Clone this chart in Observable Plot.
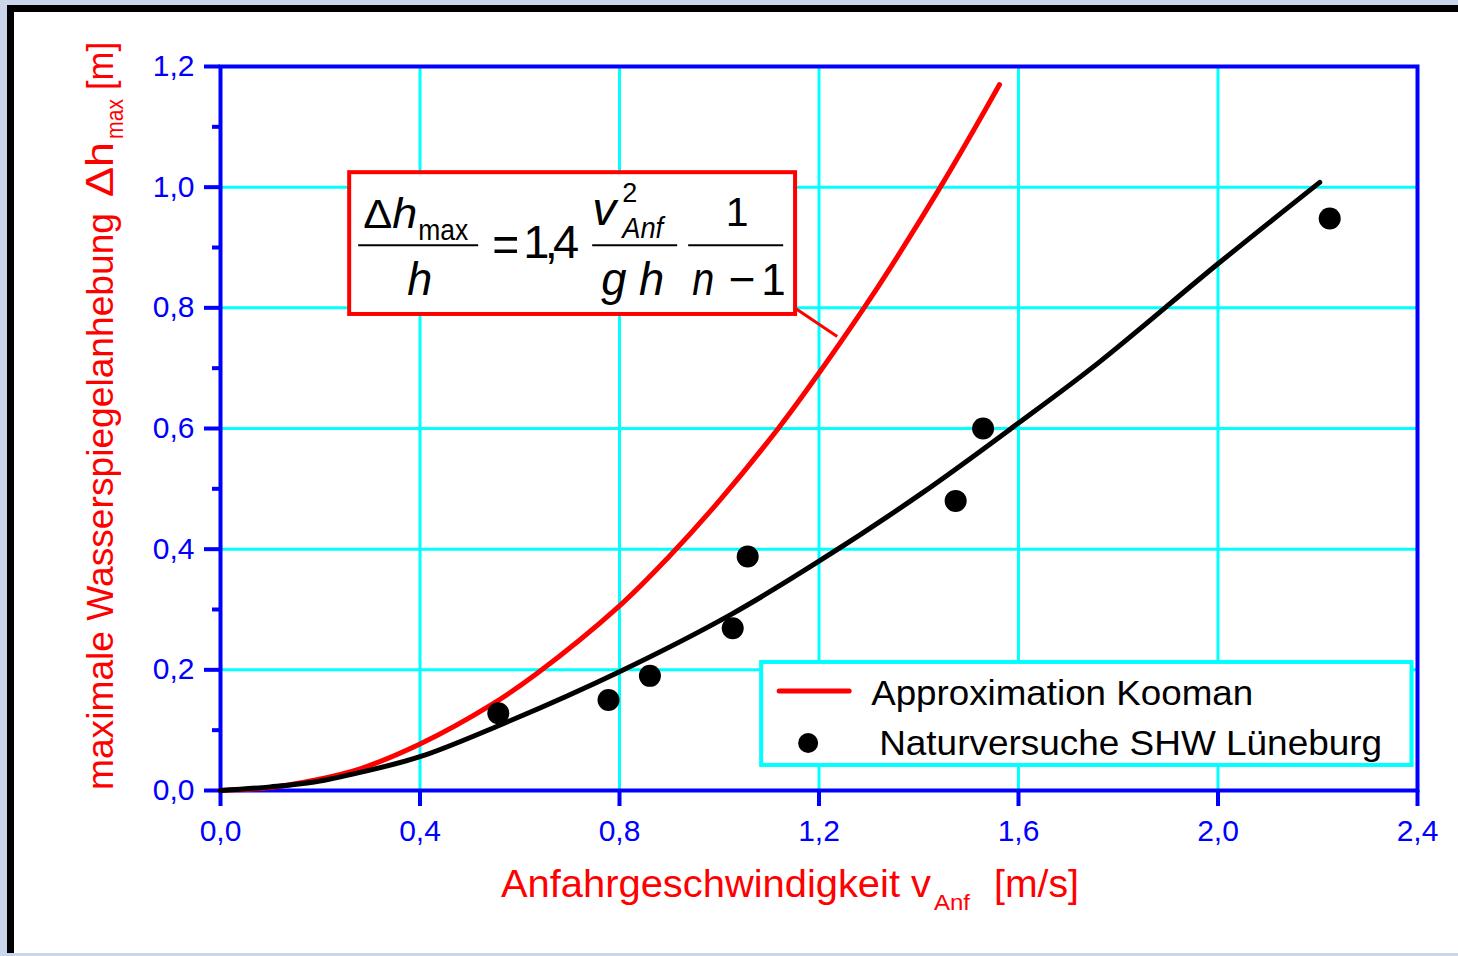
<!DOCTYPE html>
<html>
<head>
<meta charset="utf-8">
<script src="https://cdn.jsdelivr.net/npm/d3@7"></script>
<script src="https://cdn.jsdelivr.net/npm/@observablehq/plot@0.6"></script>
<style>
  html, body { margin: 0; padding: 0; background: #c9d6ec; }
  #page { position: relative; width: 1458px; height: 956px; overflow: hidden; }
  #panel { position: absolute; left: 7px; top: 5px; width: 1444px; height: 941px;
           background: #ffffff; border-left: 7px solid #000; border-top: 7px solid #000; }
  #chart { position: absolute; left: 0; top: 0; }
</style>
</head>
<body>
<div id="page"><div id="panel"></div><div id="chart"></div></div>
<script>
// Approach velocity v_Anf [m/s] and maximum water level rise Δh_max [m]

// Kooman approximation curve
const koomanV  = [0, 0.1, 0.188, 0.28, 0.4, 0.541, 0.633, 0.8, 0.894, 1.0, 1.121, 1.2, 1.292, 1.342, 1.449, 1.516, 1.562];
const koomanDh = [0, 0.005, 0.017, 0.036, 0.077, 0.141, 0.193, 0.306, 0.383, 0.480, 0.603, 0.692, 0.802, 0.865, 1.008, 1.103, 1.170];

// Fitted curve through the field tests
const fitV  = [0, 0.1, 0.188, 0.28, 0.4, 0.556, 0.8, 1.024, 1.2, 1.405, 1.6, 1.762, 2.0, 2.204];
const fitDh = [0, 0.006, 0.014, 0.03, 0.056, 0.107, 0.197, 0.292, 0.38, 0.492, 0.609, 0.71, 0.873, 1.008];

// Field tests SHW Lüneburg
const testV  = [0.557, 0.778, 0.861, 1.027, 1.057, 1.474, 1.529, 2.224];
const testDh = [0.128, 0.150, 0.190, 0.269, 0.388, 0.480, 0.600, 0.948];

// Axis ticks
const xTicks = [0, 0.4, 0.8, 1.2, 1.6, 2.0, 2.4];
const yTicks = [0, 0.2, 0.4, 0.6, 0.8, 1.0, 1.2];
const yMinorTicks = [0.1, 0.3, 0.5, 0.7, 0.9, 1.1];
const xGrid = [0.4, 0.8, 1.2, 1.6, 2.0];
const yGrid = [0.2, 0.4, 0.6, 0.8, 1.0];

// Text
const seriesNames = ["Approximation Kooman", "Naturversuche SHW Lüneburg"];
const xTitle = ["Anfahrgeschwindigkeit v", "Anf", "[m/s]"];
const yTitle = ["maximale Wasserspiegelanhebung", "Δh", "max", "[m]"];

// Leader line from the formula box to the Kooman curve
const leader = [{x1: 1.153, y1: 0.799, x2: 1.2365, y2: 0.7525}];
// Formula box and legend box extents (data units)
const formulaBox = {v0: 0.259, v1: 1.153, h0: 0.789, h1: 1.024};
const legendBox = {v0: 1.085, v1: 2.389, h0: 0.0415, h1: 0.2122};

const kooman = koomanV.map((v, i) => ({v, dh: koomanDh[i]}));
const fit = fitV.map((v, i) => ({v, dh: fitDh[i]}));
const tests = testV.map((v, i) => ({v, dh: testDh[i]}));

const BLUE = "#0000ff", CYAN = "#00ffff", RED = "#ff0000", BLACK = "#000000";
const FONT = "'Liberation Sans', Arial, sans-serif";
const fmt = (d) => d3.format(".1f")(d).replace(".", ",");

const plot = Plot.plot({
  width: 1458,
  height: 956,
  marginLeft: 220,
  marginRight: 41,
  marginTop: 66,
  marginBottom: 166,
  style: {background: "transparent", fontFamily: FONT, overflow: "visible"},
  x: {domain: [0, 2.4]},
  y: {domain: [0, 1.2]},
  marks: [
    Plot.gridX(xGrid, {stroke: CYAN, strokeOpacity: 1, strokeWidth: 3}),
    Plot.gridY(yGrid, {stroke: CYAN, strokeOpacity: 1, strokeWidth: 3}),
    Plot.axisY(yMinorTicks, {tickSize: 8, tickFormat: () => null, color: BLUE, strokeWidth: 4, label: null}),
    Plot.axisY(yTicks, {tickSize: 16, tickPadding: 10, tickFormat: fmt, color: BLUE, strokeWidth: 4, fontSize: 30, label: null}),
    Plot.axisX(xTicks, {tickSize: 16, tickPadding: 13, tickFormat: fmt, color: BLUE, strokeWidth: 4, fontSize: 30, label: null}),
    Plot.frame({stroke: BLUE, strokeWidth: 4}),
    Plot.link(leader, {x1: "x1", y1: "y1", x2: "x2", y2: "y2", stroke: RED, strokeWidth: 3}),
    Plot.line(kooman, {x: "v", y: "dh", stroke: RED, strokeWidth: 5, curve: "catmull-rom", strokeLinecap: "round"}),
    Plot.line(fit, {x: "v", y: "dh", stroke: BLACK, strokeWidth: 5, curve: "catmull-rom", strokeLinecap: "round"}),
    Plot.dot(tests, {x: "v", y: "dh", r: 11, fill: BLACK, stroke: null})
  ]
});

document.getElementById("chart").appendChild(plot);

const sx = plot.scale("x"), sy = plot.scale("y");
const svg = d3.select(plot);

function txt(g, s, x, y, opts = {}) {
  const t = g.append("text")
    .attr("x", x).attr("y", y)
    .attr("font-family", FONT)
    .attr("font-size", opts.size || 30)
    .attr("fill", opts.fill || BLACK)
    .attr("text-anchor", opts.anchor || "start")
    .text(s);
  if (opts.italic) t.attr("font-style", "italic");
  if (opts.len) t.attr("textLength", opts.len).attr("lengthAdjust", opts.adjust || "spacingAndGlyphs");
  return t;
}

// ---- formula box ----
{
  const bx = sx.apply(formulaBox.v0), by = sy.apply(formulaBox.h1);
  const bw = sx.apply(formulaBox.v1) - bx, bh = sy.apply(formulaBox.h0) - by;
  const g = svg.append("g").attr("transform", `translate(${bx},${by})`);
  g.append("rect").attr("width", bw).attr("height", bh)
    .attr("fill", "#fff").attr("stroke", RED).attr("stroke-width", 4);
  const bar = (x1, x2) => g.append("line").attr("x1", x1).attr("x2", x2)
    .attr("y1", 73).attr("y2", 73).attr("stroke", BLACK).attr("stroke-width", 2);
  // Δh_max / h
  txt(g, "Δ", 14, 56, {size: 41, len: 29});
  txt(g, "h", 43, 56, {size: 43, italic: true, len: 25});
  txt(g, "max", 69, 68, {size: 30, len: 50});
  bar(9, 129);
  txt(g, "h", 58, 123, {size: 46, italic: true, len: 25});
  // = 1,4
  txt(g, "=", 143, 89, {size: 50, len: 27});
  txt(g, "1,4", 174, 86, {size: 47, len: 56, adjust: "spacing"});
  // v²_Anf / (g h)
  txt(g, "v", 243, 53, {size: 46, italic: true, len: 24});
  txt(g, "2", 273, 30, {size: 27});
  txt(g, "Anf", 273, 66, {size: 30, italic: true, len: 41});
  bar(243, 328);
  txt(g, "g h", 252, 123, {size: 46, italic: true, len: 63});
  // 1 / (n − 1)
  txt(g, "1", 388, 54, {size: 41, anchor: "middle"});
  bar(339, 434);
  txt(g, "n", 343, 123, {size: 46, italic: true, len: 22});
  txt(g, "−", 393, 123, {size: 46, anchor: "middle"});
  txt(g, "1", 412, 123, {size: 44});
}

// ---- legend ----
{
  const lx = sx.apply(legendBox.v0), ly = sy.apply(legendBox.h1);
  const lw = sx.apply(legendBox.v1) - lx, lh = sy.apply(legendBox.h0) - ly;
  const g = svg.append("g").attr("transform", `translate(${lx},${ly})`);
  g.append("rect").attr("width", lw).attr("height", lh)
    .attr("fill", "#fff").attr("stroke", CYAN).attr("stroke-width", 4);
  g.append("line").attr("x1", 18).attr("x2", 88).attr("y1", 29).attr("y2", 29)
    .attr("stroke", RED).attr("stroke-width", 5).attr("stroke-linecap", "round");
  txt(g, seriesNames[0], 110, 43, {size: 35, len: 382});
  g.append("circle").attr("cx", 47).attr("cy", 81).attr("r", 10).attr("fill", BLACK);
  txt(g, seriesNames[1], 118, 93, {size: 35, len: 503});
}

// ---- axis titles ----
{
  const g = svg.append("g");
  txt(g, xTitle[0], 501, 897, {size: 38, fill: RED, len: 430});
  txt(g, xTitle[1], 934, 910, {size: 22, fill: RED, len: 36});
  txt(g, xTitle[2], 994, 897, {size: 38, fill: RED, len: 85});

  const gy = svg.append("g").attr("transform", "translate(113,790) rotate(-90)");
  txt(gy, yTitle[0], 0, 0, {size: 37, fill: RED, len: 577});
  txt(gy, yTitle[1], 593, 0, {size: 38, fill: RED, len: 55});
  txt(gy, yTitle[2], 651, 10, {size: 24, fill: RED, len: 40});
  txt(gy, yTitle[3], 700, 0, {size: 36, fill: RED, len: 48});
}
</script>
</body>
</html>
